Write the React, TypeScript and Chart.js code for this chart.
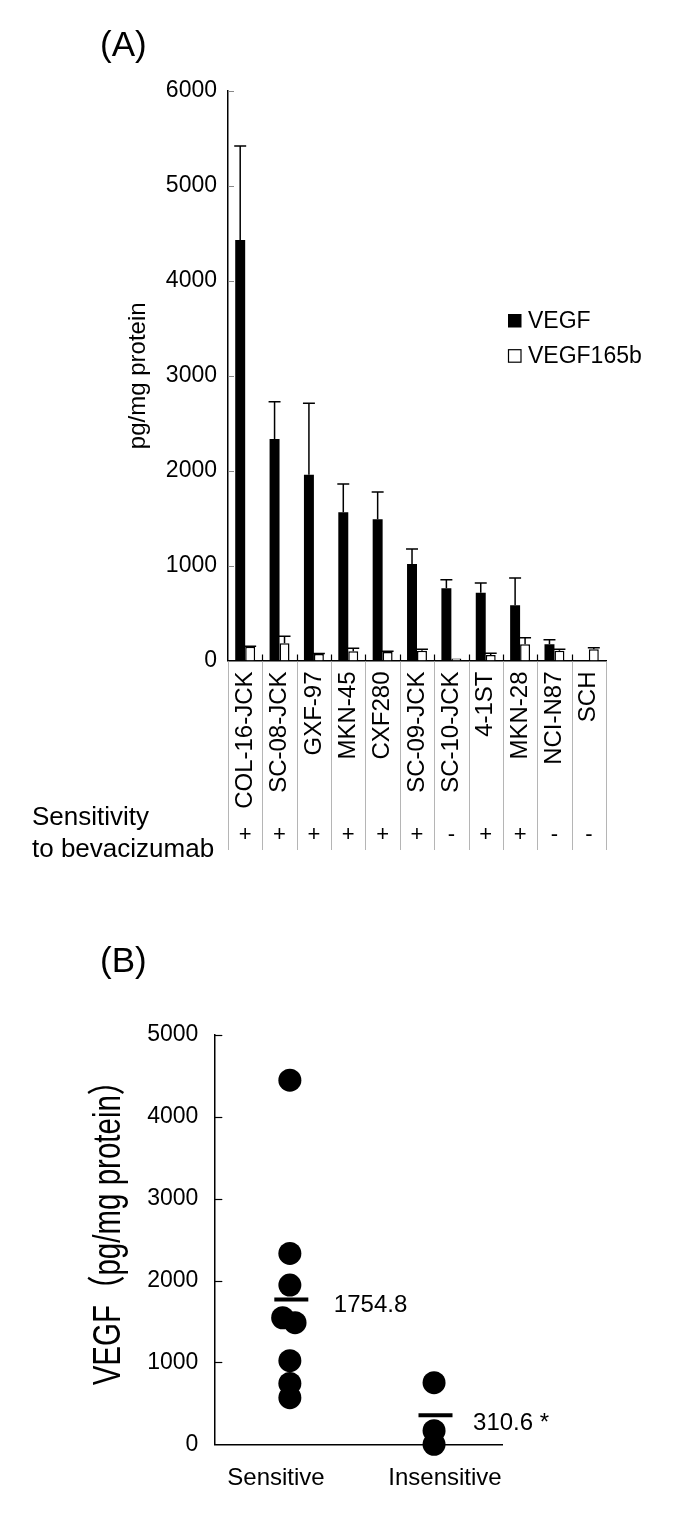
import React, { useEffect, useRef } from "react";
import { Chart, registerables } from "chart.js";

Chart.register(...registerables);

// ---------- Panel A data ----------
const cellLines = [
  "COL-16-JCK", "SC-08-JCK", "GXF-97", "MKN-45", "CXF280", "SC-09-JCK",
  "SC-10-JCK", "4-1ST", "MKN-28", "NCI-N87", "SCH",
];
const vegfValues = [4431, 2334, 1958, 1561, 1488, 1017, 761, 715, 582, 171, 5];
const vegfErrors = [990, 393, 752, 299, 288, 158, 90, 102, 287, 48, 0];
const vegf165bValues = [146, 181, 68, 97, 90, 103, 20, 58, 171, 103, 118];
const vegf165bErrors = [4, 74, 6, 31, 8, 15, 0, 18, 69, 15, 17];
const sensitivitySigns = ["+", "+", "+", "+", "+", "+", "-", "+", "+", "-", "-"];
const seriesNames = ["VEGF", "VEGF165b"];

// ---------- Panel B data ----------
const groupNames = ["Sensitive", "Insensitive"];
const sensitiveVegf = [4448, 2332, 1945, 1546, 1485, 1021, 744, 570];
const sensitiveJitter = [0, 0, 0, -0.25, 0.18, 0, 0, 0];
const insensitiveVegf = [753, 166, 0];
const insensitiveJitter = [0, 0, 0];
const meanMarkerValues = [1770, 354];
const meanLabels = ["1754.8", "310.6 *"];
const panelBTitle = "VEGF（pg/mg protein）";

const FONT = "'Liberation Sans', Arial, 'Noto Sans CJK SC', sans-serif";

// layout constants (pixel geometry, not data)
const GROUP_X = [2.62, 7.62];
const LABEL_X = [2.14, 8.0];
const MEAN_LABEL_DX = [44, 39];
const MEAN_LABEL_DY = [12.5, 15];

const plainNumber = (v: any) => String(v);

const panelADecor = {
  id: "panelADecor",
  afterDatasetsDraw(chart: any) {
    const ctx = chart.ctx;
    const ys = chart.scales.y;
    ctx.save();
    ctx.strokeStyle = "#000";
    ctx.lineWidth = 1.5;
    chart.data.datasets.forEach((ds: any, di: number) => {
      const meta = chart.getDatasetMeta(di);
      meta.data.forEach((bar: any, j: number) => {
        const e = ds.errors[j];
        if (!e) return;
        const p = bar.getProps(["x", "y", "width"], true);
        const top = ys.getPixelForValue(ds.data[j] + e);
        const half = p.width / 2 + 1;
        ctx.beginPath();
        ctx.moveTo(p.x, p.y);
        ctx.lineTo(p.x, top);
        ctx.moveTo(p.x - half, top);
        ctx.lineTo(p.x + half, top);
        ctx.stroke();
      });
    });
    ctx.restore();
  },
  afterDraw(chart: any) {
    const ctx = chart.ctx;
    const xs = chart.scales.x;
    const ys = chart.scales.y;
    const area = chart.chartArea;
    const step = xs.getPixelForValue(1) - xs.getPixelForValue(0);
    const start = xs.getPixelForValue(0) - step / 2;
    ctx.save();
    // separators below axis
    ctx.strokeStyle = "#b5b5b5";
    ctx.lineWidth = 1;
    for (let i = 0; i <= cellLines.length; i++) {
      const x = Math.round(start + i * step) + 0.5;
      ctx.beginPath();
      ctx.moveTo(x, area.bottom + 1);
      ctx.lineTo(x, 850);
      ctx.stroke();
    }
    // inward tick marks on x axis
    ctx.strokeStyle = "#000";
    ctx.lineWidth = 1.2;
    for (let i = 1; i < cellLines.length; i++) {
      const x = Math.round(start + i * step) + 0.5;
      ctx.beginPath();
      ctx.moveTo(x, area.bottom);
      ctx.lineTo(x, area.bottom - 6);
      ctx.stroke();
    }
    // inward tick marks on y axis
    ctx.strokeStyle = "#888";
    ctx.lineWidth = 1;
    ys.ticks.forEach((t: any) => {
      if (t.value === 0) return;
      const y = Math.round(ys.getPixelForValue(t.value)) + 0.5;
      ctx.beginPath();
      ctx.moveTo(area.left, y);
      ctx.lineTo(area.left + 6, y);
      ctx.stroke();
    });
    // sensitivity row
    ctx.fillStyle = "#000";
    ctx.font = `22px ${FONT}`;
    ctx.textAlign = "center";
    ctx.textBaseline = "middle";
    sensitivitySigns.forEach((s, j) => {
      ctx.fillText(s, xs.getPixelForValue(j), 835);
    });
    ctx.textAlign = "left";
    ctx.textBaseline = "alphabetic";
    ctx.font = `26px ${FONT}`;
    ctx.fillText("Sensitivity", 32, 825);
    ctx.fillText("to bevacizumab", 32, 856.5);
    // panel letter
    ctx.font = `35px ${FONT}`;
    ctx.fillText("(A)", 100, 55.5);
    // legend
    ctx.font = `23px ${FONT}`;
    ctx.textBaseline = "middle";
    const rows = [320.5, 355.7];
    chart.data.datasets.forEach((ds: any, di: number) => {
      const cy = rows[di];
      if (di === 0) {
        ctx.fillStyle = "#000";
        ctx.fillRect(508, cy - 6.5, 13.5, 13.5);
      } else {
        ctx.fillStyle = "#fff";
        ctx.fillRect(508, cy - 6.5, 13.5, 13.5);
        ctx.strokeStyle = "#000";
        ctx.lineWidth = 1.2;
        ctx.strokeRect(508.5, cy - 6, 12.5, 12.5);
      }
      ctx.fillStyle = "#000";
      ctx.fillText(ds.label, 528, cy + 1);
    });
    ctx.restore();
  },
};

const panelBDecor = {
  id: "panelBDecor",
  afterDraw(chart: any) {
    const ctx = chart.ctx;
    const xs = chart.scales.x;
    const ys = chart.scales.y;
    const area = chart.chartArea;
    ctx.save();
    ctx.strokeStyle = "#000";
    ctx.lineWidth = 1.2;
    ys.ticks.forEach((t: any) => {
      if (t.value === 0) return;
      const y = Math.round(ys.getPixelForValue(t.value)) + 0.5;
      ctx.beginPath();
      ctx.moveTo(area.left, y);
      ctx.lineTo(area.left + 8, y);
      ctx.stroke();
    });
    ctx.fillStyle = "#000";
    ctx.font = `24px ${FONT}`;
    ctx.textAlign = "left";
    ctx.textBaseline = "alphabetic";
    meanLabels.forEach((lab, i) => {
      const x = xs.getPixelForValue(GROUP_X[i]) + MEAN_LABEL_DX[i];
      const y = ys.getPixelForValue(meanMarkerValues[i]) + MEAN_LABEL_DY[i];
      ctx.fillText(lab, x, y);
    });
    ctx.font = `35px ${FONT}`;
    ctx.fillText("(B)", 100, 92);
    // rotated y-axis title
    ctx.save();
    ctx.translate(120, 345.5);
    ctx.rotate(-Math.PI / 2);
    ctx.scale(1, 1.3);
    ctx.font = `29.5px ${FONT}`;
    ctx.textAlign = "center";
    ctx.textBaseline = "alphabetic";
    ctx.fillText(panelBTitle, 0, 0);
    ctx.restore();
    ctx.restore();
  },
};

export default function App() {
  const refA = useRef<HTMLCanvasElement>(null);
  const refB = useRef<HTMLCanvasElement>(null);

  useEffect(() => {
    const chartA = new Chart(refA.current as HTMLCanvasElement, {
      type: "bar",
      data: {
        labels: cellLines,
        datasets: [
          {
            label: seriesNames[0],
            data: vegfValues,
            errors: vegfErrors,
            backgroundColor: "#000",
            borderWidth: 0,
            categoryPercentage: 0.58,
            barPercentage: 1.0,
          } as any,
          {
            label: seriesNames[1],
            data: vegf165bValues,
            errors: vegf165bErrors,
            backgroundColor: "#fff",
            borderColor: "#000",
            borderWidth: 1.5,
            borderSkipped: "bottom",
            categoryPercentage: 0.58,
            barPercentage: 1.0,
          } as any,
        ],
      },
      options: {
        responsive: false,
        animation: false,
        events: [],
        layout: { padding: { top: 91, left: 0, right: 79, bottom: 0 } },
        plugins: { legend: { display: false }, tooltip: { enabled: false } },
        scales: {
          x: {
            type: "category",
            grid: { display: false, drawTicks: false },
            border: { display: true, color: "#000", width: 1.5 },
            ticks: {
              autoSkip: false,
              minRotation: 90,
              maxRotation: 90,
              padding: 11,
              color: "#000",
              font: { family: FONT, size: 24 },
            },
            afterFit: (s: any) => {
              s.height = 880 - 660.5;
            },
          },
          y: {
            min: 0,
            max: 6000,
            grid: { display: false, drawTicks: false },
            border: { display: true, color: "#000", width: 1.5 },
            ticks: {
              stepSize: 1000,
              padding: 11,
              color: "#000",
              font: { family: FONT, size: 23 },
              callback: plainNumber,
            },
            title: {
              display: true,
              text: "pg/mg protein",
              color: "#000",
              font: { family: FONT, size: 24 },
              padding: { top: 123.6, bottom: 0 },
            },
            afterFit: (s: any) => {
              s.width = 228;
            },
          },
        },
      },
      plugins: [panelADecor],
    } as any);

    const sensitivePoints = sensitiveVegf.map((v, i) => ({ x: GROUP_X[0] + sensitiveJitter[i], y: v }));
    const insensitivePoints = insensitiveVegf.map((v, i) => ({ x: GROUP_X[1] + insensitiveJitter[i], y: v }));
    const meanPoints = meanMarkerValues.map((v, i) => ({ x: GROUP_X[i] + 0.05, y: v }));

    const chartB = new Chart(refB.current as HTMLCanvasElement, {
      type: "scatter",
      data: {
        datasets: [
          {
            label: "Mean",
            data: meanPoints,
            pointStyle: "line",
            radius: 17,
            borderWidth: 4,
            borderColor: "#000",
            backgroundColor: "#000",
            clip: false,
          },
          {
            label: groupNames[0],
            data: sensitivePoints,
            radius: 11.5,
            borderWidth: 0,
            backgroundColor: "#000",
            clip: false,
          },
          {
            label: groupNames[1],
            data: insensitivePoints,
            radius: 11.5,
            borderWidth: 0,
            backgroundColor: "#000",
            clip: false,
          },
        ],
      },
      options: {
        responsive: false,
        animation: false,
        events: [],
        layout: { padding: { top: 155, left: 0, right: 182.3, bottom: 0 } },
        plugins: { legend: { display: false }, tooltip: { enabled: false } },
        scales: {
          x: {
            type: "linear",
            min: 0,
            max: 10,
            grid: { display: false, drawTicks: false },
            border: { display: true, color: "#000", width: 1.5 },
            afterBuildTicks: (s: any) => {
              s.ticks = LABEL_X.map((v) => ({ value: v }));
            },
            ticks: {
              autoSkip: false,
              maxRotation: 0,
              padding: 20,
              color: "#000",
              font: { family: FONT, size: 24 },
              callback: (_v: any, i: number) => groupNames[i],
            },
            afterFit: (s: any) => {
              s.height = 645 - 564.3;
            },
          },
          y: {
            min: 0,
            max: 5000,
            grid: { display: false, drawTicks: false },
            border: { display: true, color: "#000", width: 1.5 },
            ticks: {
              stepSize: 1000,
              padding: 16,
              color: "#000",
              font: { family: FONT, size: 23 },
              callback: plainNumber,
            },
            title: { display: false },
            afterFit: (s: any) => {
              s.width = 214.3;
            },
          },
        },
      },
      plugins: [panelBDecor],
    } as any);

    return () => {
      chartA.destroy();
      chartB.destroy();
    };
  }, []);

  return (
    <div style={{ position: "absolute", left: 0, top: 0, width: 685, height: 1525, background: "#fff" }}>
      <canvas ref={refA} width={685} height={880} style={{ position: "absolute", left: 0, top: 0, display: "block" }} />
      <canvas ref={refB} width={685} height={645} style={{ position: "absolute", left: 0, top: 880, display: "block" }} />
    </div>
  );
}
